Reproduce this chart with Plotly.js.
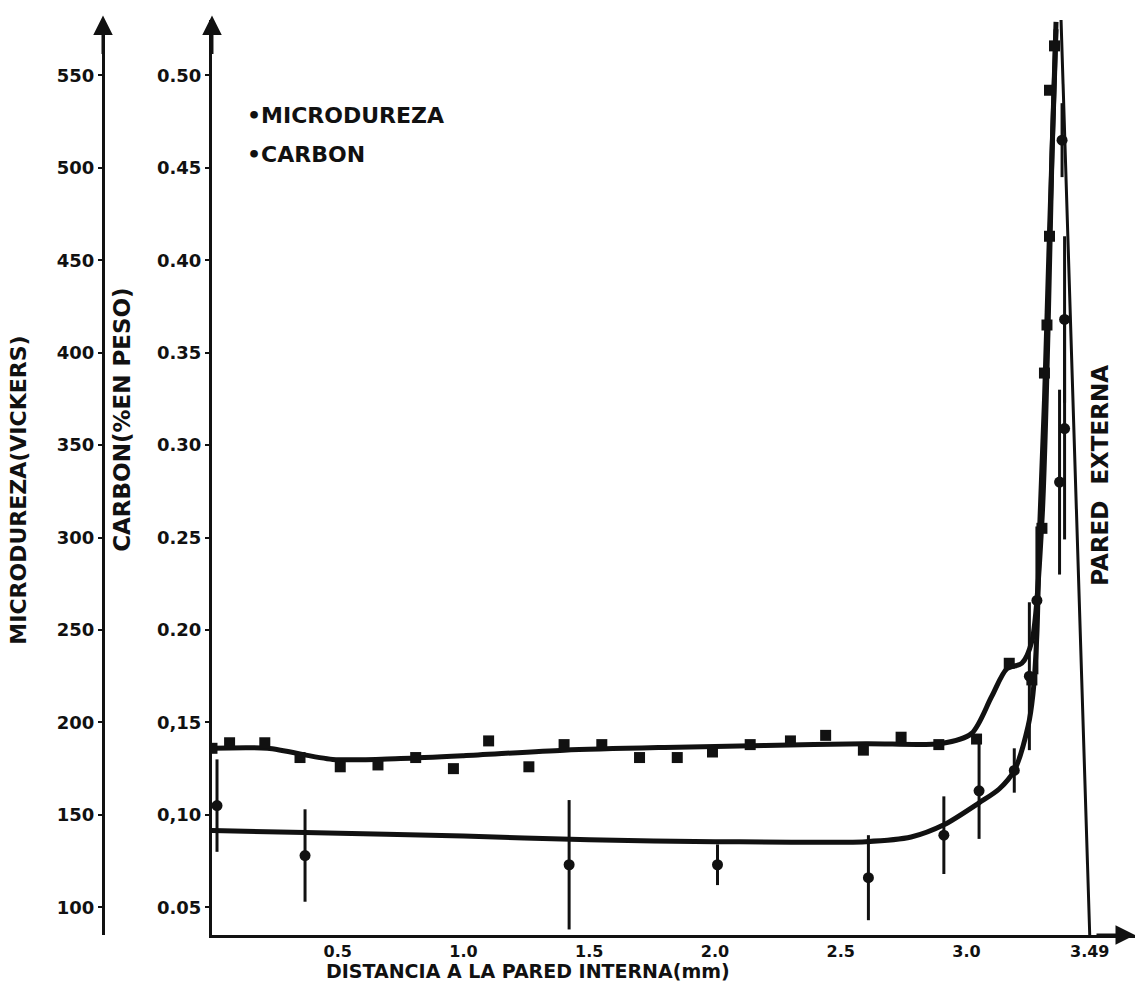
<!DOCTYPE html>
<html>
<head>
<meta charset="utf-8">
<script src="https://cdn.plot.ly/plotly-3.0.1.min.js"></script>
<style>html,body{margin:0;padding:0;background:#fff;}#chart{width:1142px;height:981px;}</style>
</head>
<body>
<div id="chart"></div>
<script>
// ---- Data ----
// Microdureza (Vickers) measurements
const hardX = [0.0, 0.07, 0.21, 0.35, 0.51, 0.66, 0.81, 0.96, 1.10, 1.26, 1.40, 1.55, 1.70, 1.85, 1.99, 2.14, 2.30, 2.44, 2.59, 2.74, 2.89, 3.04, 3.17, 3.26, 3.30, 3.31, 3.32, 3.33, 3.33, 3.35];
const hardY = [186, 189, 189, 181, 176, 177, 181, 175, 190, 176, 188, 188, 181, 181, 184, 188, 190, 193, 185, 192, 188, 191, 232, 223, 305, 389, 415, 463, 542, 566];
// Fitted microdureza curve
const hardCurveX = [0, 0.22, 0.48, 0.75, 1.0, 1.4, 1.8, 2.2, 2.6, 2.9, 3.02, 3.1, 3.16, 3.22, 3.26, 3.30, 3.324, 3.34, 3.356];
const hardCurveY = [186, 186, 180, 180.5, 182, 185, 186.5, 187.5, 188.5, 188.6, 194, 214, 229, 232, 244, 309, 411, 508, 579];

// Carbon (% en peso) measurements with error bars
const carbonX = [0.02, 0.37, 1.42, 2.01, 2.61, 2.91, 3.05, 3.19, 3.25, 3.28, 3.37, 3.39, 3.39, 3.38];
const carbonY = [0.105, 0.078, 0.073, 0.073, 0.066, 0.089, 0.113, 0.124, 0.175, 0.216, 0.280, 0.309, 0.368, 0.465];
const carbonErr = [0.025, 0.025, 0.035, 0.011, 0.023, 0.021, 0.026, 0.012, 0.040, 0.040, 0.050, 0.060, 0.045, 0.020];
// Fitted carbon curve
const carbonCurveX = [0, 0.37, 1.0, 1.5, 2.0, 2.6, 2.78, 2.91, 3.05, 3.13, 3.19, 3.245, 3.264, 3.28, 3.29, 3.31, 3.33, 3.356];
const carbonCurveY = [0.0915, 0.0905, 0.0885, 0.0865, 0.0855, 0.0855, 0.088, 0.0946, 0.1065, 0.114, 0.124, 0.148, 0.165, 0.198, 0.252, 0.324, 0.415, 0.525];

// External wall line
const wallX = [3.49, 3.376];
const wallY = [0.035, 0.53];

// Tick labels
const xTickVals = [0.5, 1.0, 1.5, 2.0, 2.5, 3.0, 3.49];
const xTickText = ["0.5", "1.0", "1.5", "2.0", "2.5", "3.0", "3.49"];
const carbonTickVals = [0.05, 0.10, 0.15, 0.20, 0.25, 0.30, 0.35, 0.40, 0.45, 0.50];
const carbonTickText = ["0.05", "0,10", "0,15", "0.20", "0.25", "0.30", "0.35", "0.40", "0.45", "0.50"];
const hardTickVals = [100, 150, 200, 250, 300, 350, 400, 450, 500, 550];
const hardTickText = ["100", "150", "200", "250", "300", "350", "400", "450", "500", "550"];

// ---- Chart ----
const FONT = "DejaVu Sans, Liberation Sans, sans-serif";
const ink = "#111";

const traces = [
  {x: hardCurveX, y: hardCurveY, yaxis: "y2", mode: "lines", line: {color: ink, width: 5, shape: "spline", smoothing: 0.8}, hoverinfo: "skip", showlegend: false},
  {x: hardX, y: hardY, yaxis: "y2", mode: "markers", name: "MICRODUREZA", marker: {symbol: "square", size: 11, color: ink}, showlegend: false},
  {x: carbonCurveX, y: carbonCurveY, yaxis: "y", mode: "lines", line: {color: ink, width: 5, shape: "spline", smoothing: 0.8}, hoverinfo: "skip", showlegend: false},
  {x: carbonX, y: carbonY, yaxis: "y", mode: "markers", name: "CARBON", marker: {symbol: "circle", size: 11, color: ink},
   error_y: {type: "data", array: carbonErr, visible: true, color: ink, thickness: 3, width: 0}, showlegend: false},
  {x: wallX, y: wallY, yaxis: "y", mode: "lines", line: {color: ink, width: 3}, hoverinfo: "skip", showlegend: false}
];

const yTickFont = {family: FONT, size: 18, color: ink, weight: "bold"};
const xTickFont = {family: FONT, size: 16, color: ink, weight: "bold"};

const layout = {
  width: 1142, height: 981, autosize: false,
  margin: {l: 103, r: 7, t: 20, b: 46},
  paper_bgcolor: "#fff", plot_bgcolor: "#fff",
  showlegend: false,
  xaxis: {
    domain: [0.1056, 1], range: [0, 3.67], showgrid: false, zeroline: false,
    showline: true, linecolor: ink, linewidth: 3,
    tickmode: "array", tickvals: xTickVals, ticktext: xTickText,
    ticks: "", ticklabelstandoff: 0, tickfont: xTickFont, automargin: false
  },
  yaxis: {
    range: [0.035, 0.53], showgrid: false, zeroline: false,
    showline: true, linecolor: ink, linewidth: 3,
    tickmode: "array", tickvals: carbonTickVals, ticktext: carbonTickText,
    ticks: "outside", ticklen: 4, tickwidth: 2, tickcolor: ink,
    tickfont: yTickFont, automargin: false
  },
  yaxis2: {
    range: [85, 580], overlaying: "y", anchor: "free", position: 0, side: "left",
    showgrid: false, zeroline: false,
    showline: true, linecolor: ink, linewidth: 3,
    tickmode: "array", tickvals: hardTickVals, ticktext: hardTickText,
    ticks: "outside", ticklen: 4, tickwidth: 2, tickcolor: ink,
    tickfont: yTickFont, automargin: false
  },
  annotations: [
    // axis arrows
    {xref: "paper", yref: "paper", x: 0, y: 1.005, ax: 0, ay: 40, text: "", showarrow: true, arrowhead: 2, arrowsize: 1.3, arrowwidth: 3, arrowcolor: ink},
    {xref: "paper", yref: "paper", x: 0.1056, y: 1.005, ax: 0, ay: 40, text: "", showarrow: true, arrowhead: 2, arrowsize: 1.3, arrowwidth: 3, arrowcolor: ink},
    {xref: "paper", yref: "paper", x: 1.0, y: 0, ax: -40, ay: 0, text: "", showarrow: true, arrowhead: 2, arrowsize: 1.3, arrowwidth: 3, arrowcolor: ink},
    // axis titles
    {xref: "paper", yref: "paper", x: -0.082, y: 0.486, text: "MICRODUREZA(VICKERS)", textangle: -90, showarrow: false, font: {family: FONT, size: 22, color: ink, weight: "bold"}, xanchor: "center", yanchor: "middle"},
    {xref: "paper", yref: "paper", x: 0.0184, y: 0.563, text: "CARBON(%EN PESO)", textangle: -90, showarrow: false, font: {family: FONT, size: 23, color: ink, weight: "bold"}, xanchor: "center", yanchor: "middle"},
    {xref: "paper", yref: "paper", x: 0.412, y: -0.0395, text: "DISTANCIA A LA PARED INTERNA(mm)", showarrow: false, font: {family: FONT, size: 19, color: ink, weight: "bold"}, xanchor: "center", yanchor: "middle"},
    {xref: "paper", yref: "paper", x: 0.966, y: 0.503, text: "PARED  EXTERNA", textangle: -90, showarrow: false, font: {family: FONT, size: 23, color: ink, weight: "bold"}, xanchor: "center", yanchor: "middle"},
    // legend
    {xref: "paper", yref: "paper", x: 0.1376, y: 0.896, text: "•MICRODUREZA", showarrow: false, font: {family: FONT, size: 22, color: ink, weight: "bold"}, xanchor: "left", yanchor: "middle"},
    {xref: "paper", yref: "paper", x: 0.1376, y: 0.8525, text: "•CARBON", showarrow: false, font: {family: FONT, size: 22, color: ink, weight: "bold"}, xanchor: "left", yanchor: "middle"}
  ]
};

Plotly.newPlot("chart", traces, layout, {displayModeBar: false, staticPlot: true});
</script>
</body>
</html>
